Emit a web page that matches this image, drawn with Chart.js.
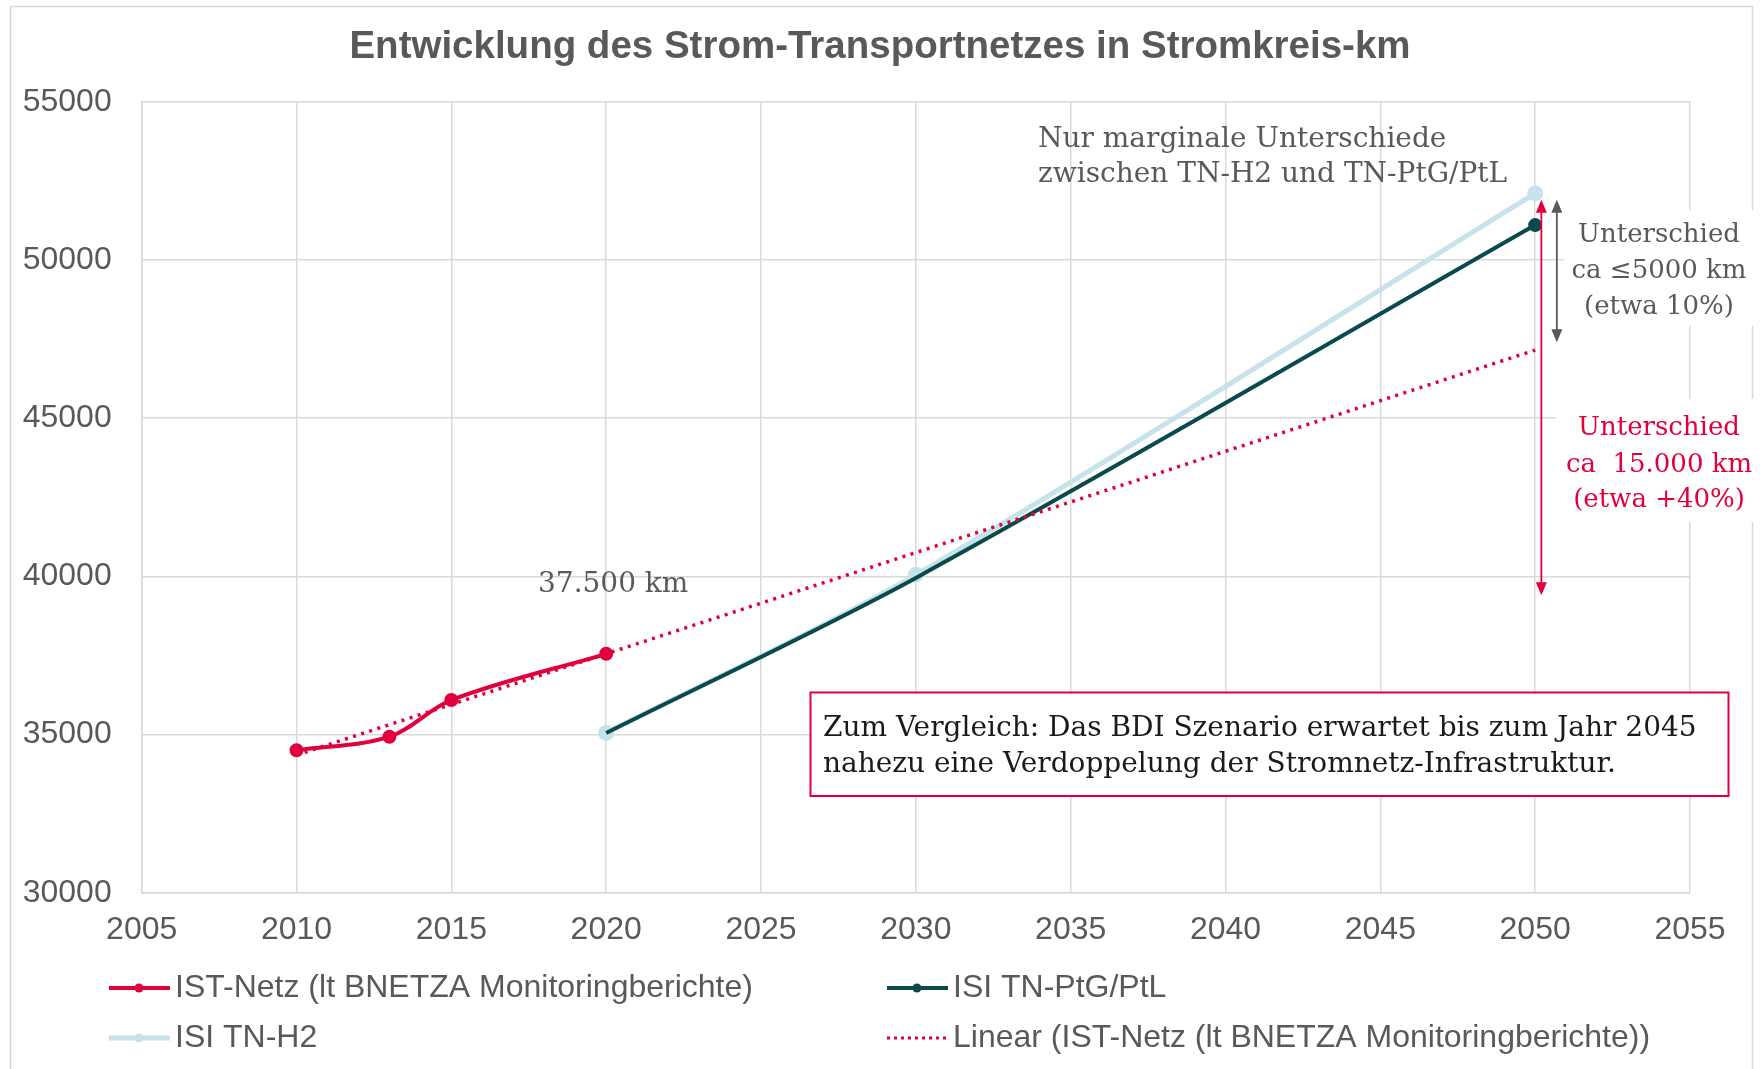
<!DOCTYPE html>
<html lang="de">
<head>
<meta charset="utf-8">
<title>Entwicklung des Strom-Transportnetzes</title>
<script src="https://cdn.jsdelivr.net/npm/chart.js@4.4.1/dist/chart.umd.min.js"></script>
<style>
  html, body { margin: 0; padding: 0; background: #fff; }
  #chart { display: block; }
</style>
</head>
<body>
<canvas id="chart" width="1760" height="1069"></canvas>
<script>
// values, Stromkreis-km
const istYears = [2010, 2013, 2015, 2020];
const istKm = [34500, 34930, 36090, 37550];
const isiYears = [2020, 2030, 2050];
const ptgKm = [35050, 39950, 51100];
const h2Km = [35050, 40050, 52100];
const trendYears = [2010, 2050];
const trendKm = [34350, 47150];

const yearTicks = [2005, 2010, 2015, 2020, 2025, 2030, 2035, 2040, 2045, 2050, 2055];
const kmTicks = [30000, 35000, 40000, 45000, 50000, 55000];

const RED = '#e2003c';
const TEAL = '#0b4a4c';
const LIGHT = '#c6e2ea';
const GRAY = '#595959';
const GRID = '#d9d9d9';
const SANS = '"Liberation Sans", Arial, sans-serif';
const SERIF = '"DejaVu Serif", Georgia, serif';

Chart.defaults.font.family = SANS;

function toPoints(xs, ys) {
    return xs.map((x, i) => ({ x: x, y: ys[i] }));
}

// legend entries (drawn by hand, Excel style two-column grid)
const legendItems = [
    { text: 'IST-Netz (lt BNETZA Monitoringberichte)', color: RED, lineWidth: 4, dash: [], dot: true, col: 0, row: 0 },
    { text: 'ISI TN-PtG/PtL', color: TEAL, lineWidth: 4, dash: [], dot: true, col: 1, row: 0 },
    { text: 'ISI TN-H2', color: LIGHT, lineWidth: 5, dash: [], dot: true, col: 0, row: 1 },
    { text: 'Linear (IST-Netz (lt BNETZA Monitoringberichte))', color: RED, lineWidth: 3, dash: [3, 4], dot: false, col: 1, row: 1 }
];

function arrowHead(ctx, x, yTip, dir, color) {
    ctx.fillStyle = color;
    ctx.beginPath();
    ctx.moveTo(x, yTip);
    ctx.lineTo(x - 5.5, yTip - dir * 13);
    ctx.lineTo(x + 5.5, yTip - dir * 13);
    ctx.closePath();
    ctx.fill();
}

function doubleArrow(ctx, x, yTop, yBottom, color) {
    ctx.save();
    ctx.strokeStyle = color;
    ctx.lineWidth = 1.8;
    ctx.beginPath();
    ctx.moveTo(x, yTop + 8);
    ctx.lineTo(x, yBottom - 8);
    ctx.stroke();
    arrowHead(ctx, x, yTop, -1, color);
    arrowHead(ctx, x, yBottom, 1, color);
    ctx.restore();
}

const extras = {
    id: 'extras',
    beforeDraw(chart) {
        const ctx = chart.ctx;
        ctx.save();
        ctx.fillStyle = '#fff';
        ctx.fillRect(0, 0, chart.width, chart.height);
        ctx.strokeStyle = GRID;
        ctx.lineWidth = 1.5;
        ctx.strokeRect(10.5, 6.5, 1742, 1100);
        ctx.restore();
    },
    afterDraw(chart) {
        const ctx = chart.ctx;
        const xs = chart.scales.x;
        const ys = chart.scales.y;

        // legend
        ctx.save();
        legendItems.forEach(item => {
            const x = item.col === 0 ? 109 : 887;
            const y = item.row === 0 ? 988 : 1038;
            ctx.strokeStyle = item.color;
            ctx.lineWidth = item.lineWidth;
            ctx.setLineDash(item.dash);
            ctx.beginPath();
            ctx.moveTo(x, y);
            ctx.lineTo(x + 61, y);
            ctx.stroke();
            ctx.setLineDash([]);
            if (item.dot) {
                ctx.fillStyle = item.color;
                ctx.beginPath();
                ctx.arc(x + 30, y, 4.5, 0, Math.PI * 2);
                ctx.fill();
            }
            ctx.fillStyle = GRAY;
            ctx.font = '32px ' + SANS;
            ctx.textBaseline = 'middle';
            ctx.textAlign = 'left';
            ctx.fillText(item.text, x + 66, y);
        });
        ctx.restore();

        // white patches behind the side notes
        ctx.save();
        ctx.fillStyle = '#fff';
        ctx.fillRect(1564, 210, 196, 116);
        ctx.fillRect(1556, 399, 204, 123);
        ctx.restore();

        // difference arrows at 2050
        doubleArrow(ctx, xs.getPixelForValue(2050.2), ys.getPixelForValue(51900), ys.getPixelForValue(39400), RED);
        doubleArrow(ctx, xs.getPixelForValue(2050.7), ys.getPixelForValue(51900), ys.getPixelForValue(47400), GRAY);

        ctx.save();
        ctx.font = '26px ' + SERIF;
        ctx.textBaseline = 'alphabetic';

        ctx.textAlign = 'center';
        ctx.fillStyle = GRAY;
        ctx.fillText('Unterschied', 1659, 242);
        ctx.fillText('ca \u22645000 km', 1659, 278);
        ctx.fillText('(etwa 10%)', 1659, 314);

        ctx.fillStyle = RED;
        ctx.fillText('Unterschied', 1659, 435);
        ctx.fillText('ca  15.000 km', 1659, 472);
        ctx.fillText('(etwa +40%)', 1659, 507);

        ctx.textAlign = 'left';
        ctx.fillStyle = GRAY;
        ctx.font = '28px ' + SERIF;
        ctx.fillText('Nur marginale Unterschiede', 1038, 147);
        ctx.fillText('zwischen TN-H2 und TN-PtG/PtL', 1038, 182);
        ctx.fillText('37.500 km', 538, 592);

        // comparison box
        ctx.fillStyle = '#fff';
        ctx.fillRect(810, 692, 919, 104);
        ctx.strokeStyle = RED;
        ctx.lineWidth = 2;
        ctx.strokeRect(810.5, 692.5, 918, 103.5);
        ctx.fillStyle = '#1a1a1a';
        ctx.font = '28px ' + SERIF;
        ctx.fillText('Zum Vergleich: Das BDI Szenario erwartet bis zum Jahr 2045', 823, 736);
        ctx.fillText('nahezu eine Verdoppelung der Stromnetz-Infrastruktur.', 823, 772);
        ctx.restore();
    }
};

const config = {
    type: 'line',
    data: {
        datasets: [
            {
                label: 'IST-Netz (lt BNETZA Monitoringberichte)',
                data: toPoints(istYears, istKm),
                borderColor: RED,
                backgroundColor: RED,
                borderWidth: 4,
                pointRadius: 5,
                tension: 0.35,
                order: 1
            },
            {
                label: 'ISI TN-PtG/PtL',
                data: toPoints(isiYears, ptgKm),
                borderColor: TEAL,
                backgroundColor: TEAL,
                borderWidth: 4,
                pointRadius: ctx => ctx.dataIndex === ptgKm.length - 1 ? 5 : 0,
                tension: 0.3,
                order: 2
            },
            {
                label: 'ISI TN-H2',
                data: toPoints(isiYears, h2Km),
                borderColor: LIGHT,
                backgroundColor: LIGHT,
                borderWidth: 5,
                pointRadius: 5.5,
                tension: 0.3,
                order: 3
            },
            {
                label: 'Linear (IST-Netz (lt BNETZA Monitoringberichte))',
                data: toPoints(trendYears, trendKm),
                borderColor: RED,
                borderWidth: 3.5,
                borderDash: [3, 5.5],
                pointRadius: 0,
                order: 0
            }
        ]
    },
    options: {
        responsive: false,
        animation: false,
        devicePixelRatio: 1,
        layout: { padding: { left: 0, right: 0, top: 0, bottom: 0 } },
        plugins: {
            title: {
                display: true,
                text: 'Entwicklung des Strom-Transportnetzes in Stromkreis-km',
                font: { size: 38.5, weight: 'bold' },
                color: GRAY,
                padding: { top: 24, bottom: 31.5 }
            },
            legend: { display: false },
            tooltip: { enabled: false }
        },
        scales: {
            x: {
                type: 'linear',
                min: 2005,
                max: 2055,
                afterBuildTicks: s => { s.ticks = yearTicks.map(v => ({ value: v })); },
                afterFit: s => { s.height = 176.3; },
                grid: { color: GRID, lineWidth: 1.5, drawTicks: false },
                border: { color: GRID, width: 1.5 },
                ticks: {
                    padding: 18,
                    color: GRAY,
                    font: { size: 32 },
                    maxRotation: 0,
                    callback: v => String(v)
                }
            },
            y: {
                min: 30000,
                max: 55000,
                afterBuildTicks: s => { s.ticks = kmTicks.map(v => ({ value: v })); },
                afterFit: s => { s.width = 141.7; },
                grid: { color: GRID, lineWidth: 1.5, drawTicks: false },
                border: { color: GRID, width: 1.5 },
                ticks: {
                    padding: 30,
                    color: GRAY,
                    font: { size: 32 },
                    callback: v => String(v)
                }
            },
            // empty right-hand axis, only keeps the plot clear of the side notes
            yRight: {
                position: 'right',
                min: 30000,
                max: 55000,
                afterFit: s => { s.width = 70; },
                grid: { display: false, drawOnChartArea: false },
                border: { display: false },
                ticks: { display: false }
            }
        }
    },
    plugins: [extras]
};

const ctx = document.getElementById('chart').getContext('2d');
new Chart(ctx, config);
</script>
</body>
</html>
